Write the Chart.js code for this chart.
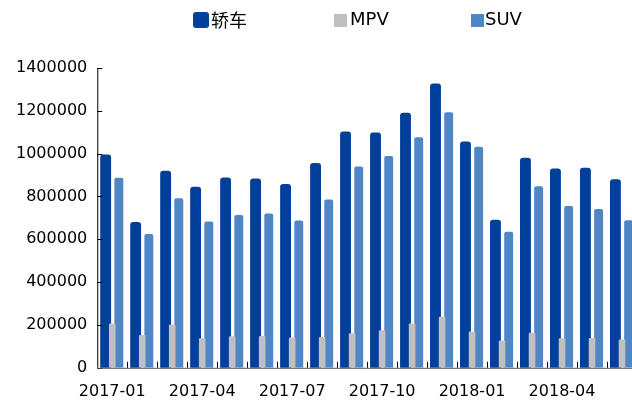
<!DOCTYPE html>
<html>
<head>
    <title>轿车 / MPV / SUV monthly sales</title>
    <script src="https://cdn.jsdelivr.net/npm/chart.js"></script>
    <style>
        body {margin: 0; overflow: hidden; background: #fff; width: 632px; height: 403px;}
        #legend {position: absolute; left: 0; top: 0; width: 632px; height: 40px;
                 font: 18px "DejaVu Sans", "Noto Sans CJK SC", sans-serif; color: #000;}
        #legend .box {position: absolute;}
        #legend .txt {position: absolute; top: 8px; line-height: 22px; white-space: nowrap;}
        #wrap {position: absolute; left: 0; top: 0;}
    </style>
</head>
<body>
    <div id="wrap"><canvas id="myChart" width="640" height="403"></canvas></div>
    <div id="legend">
        <span class="box" style="left:193px; top:12px; width:16px; height:16px; background:#00409a; border-radius:3px;"></span>
        <span class="txt" style="left:211px; font-family:'Noto Sans CJK SC', sans-serif;">轿车</span>
        <span class="box" style="left:334px; top:14px; width:13px; height:13px; background:#c0c0c0;"></span>
        <span class="txt" style="left:350px;">MPV</span>
        <span class="box" style="left:471px; top:14px; width:13px; height:13px; background:#4f86c6;"></span>
        <span class="txt" style="left:485px;">SUV</span>
    </div>
    <script>
        var months = ['2017-01', '2017-02', '2017-03', '2017-04', '2017-05', '2017-06',
                      '2017-07', '2017-08', '2017-09', '2017-10', '2017-11', '2017-12',
                      '2018-01', '2018-02', '2018-03', '2018-04', '2018-05', '2018-06'];
        var sedan = [996000, 681000, 920000, 845000, 889000, 884000, 858000, 956000, 1104000,
                     1099000, 1191000, 1328000, 1057000, 691000, 981000, 931000, 934000, 880000];
        var mpv = [207000, 153000, 202000, 138000, 147000, 149000, 141000, 144000, 161000,
                   175000, 207000, 238000, 169000, 127000, 164000, 138000, 139000, 132000];
        var suv = [887000, 625000, 792000, 683000, 713000, 721000, 688000, 786000, 940000,
                   989000, 1077000, 1193000, 1032000, 635000, 848000, 755000, 742000, 689000];
        var yTicks = [0, 200000, 400000, 600000, 800000, 1000000, 1200000, 1400000];

        // draw the sedan bars first so the grey MPV bars sit on top of them
        var sedanBehind = {
            id: 'sedanBehind',
            beforeDatasetsDraw: function(chart) {
                chart.getDatasetMeta(0).controller.draw();
            },
            beforeDatasetDraw: function(chart, args) {
                if (args.index === 0) return false;
            }
        };

        // small tick marks pointing into the plot, like the original
        var innerTicks = {
            id: 'innerTicks',
            afterDatasetsDraw: function(chart) {
                var ctx = chart.ctx;
                var x = chart.scales.x, y = chart.scales.y;
                ctx.save();
                ctx.strokeStyle = '#000';
                ctx.lineWidth = 1;
                ctx.beginPath();
                yTicks.forEach(function(v) {
                    var py = Math.round(y.getPixelForValue(v)) + 0.5;
                    ctx.moveTo(x.left, py);
                    ctx.lineTo(x.left + 5, py);
                });
                var half = (x.getPixelForValue(1) - x.getPixelForValue(0)) / 2;
                for (var i = 1; i < months.length; i++) {
                    var px = Math.round(x.getPixelForValue(i) - half) + 0.5;
                    ctx.moveTo(px, y.bottom);
                    ctx.lineTo(px, y.bottom - 6);
                }
                ctx.stroke();
                // axis lines
                ctx.beginPath();
                ctx.moveTo(x.left + 0.5, y.top);
                ctx.lineTo(x.left + 0.5, y.bottom);
                ctx.stroke();
                ctx.beginPath();
                ctx.strokeStyle = '#555';
                ctx.moveTo(x.left, y.bottom + 0.5);
                ctx.lineTo(x.right, y.bottom + 0.5);
                ctx.stroke();
                ctx.restore();
            }
        };

        var ctx = document.getElementById('myChart').getContext('2d');
        new Chart(ctx, {
            type: 'bar',
            data: {
                labels: months,
                datasets: [
                    {label: '轿车', data: sedan, backgroundColor: '#00409a',
                     barPercentage: 1.65, categoryPercentage: 0.66, borderRadius: 3},
                    {label: 'MPV', data: mpv, backgroundColor: '#c0c0c0',
                     barPercentage: 1.0, categoryPercentage: 0.66, borderRadius: 1},
                    {label: 'SUV', data: suv, backgroundColor: '#4f86c6',
                     barPercentage: 1.35, categoryPercentage: 0.66, borderRadius: 2}
                ]
            },
            options: {
                responsive: false,
                animation: false,
                layout: {padding: {top: 68, left: 6, right: 3, bottom: -12}},
                plugins: {legend: {display: false}, tooltip: {enabled: false}},
                scales: {
                    x: {
                        grid: {display: false, drawTicks: false},
                        border: {display: false},
                        ticks: {
                            autoSkip: false,
                            maxRotation: 0,
                            padding: 14,
                            color: '#000',
                            font: {family: 'DejaVu Sans', size: 16},
                            callback: function(v, i) { return i % 3 === 0 ? months[i] : ''; }
                        }
                    },
                    y: {
                        min: 0,
                        max: 1400000,
                        grid: {display: false, drawTicks: false},
                        border: {display: false},
                        afterBuildTicks: function(axis) {
                            axis.ticks = yTicks.map(function(v) { return {value: v}; });
                        },
                        ticks: {
                            padding: 10,
                            color: '#000',
                            font: {family: 'DejaVu Sans', size: 16},
                            callback: function(v) { return String(v); }
                        }
                    }
                }
            },
            plugins: [sedanBehind, innerTicks]
        });
    </script>
</body>
</html>
